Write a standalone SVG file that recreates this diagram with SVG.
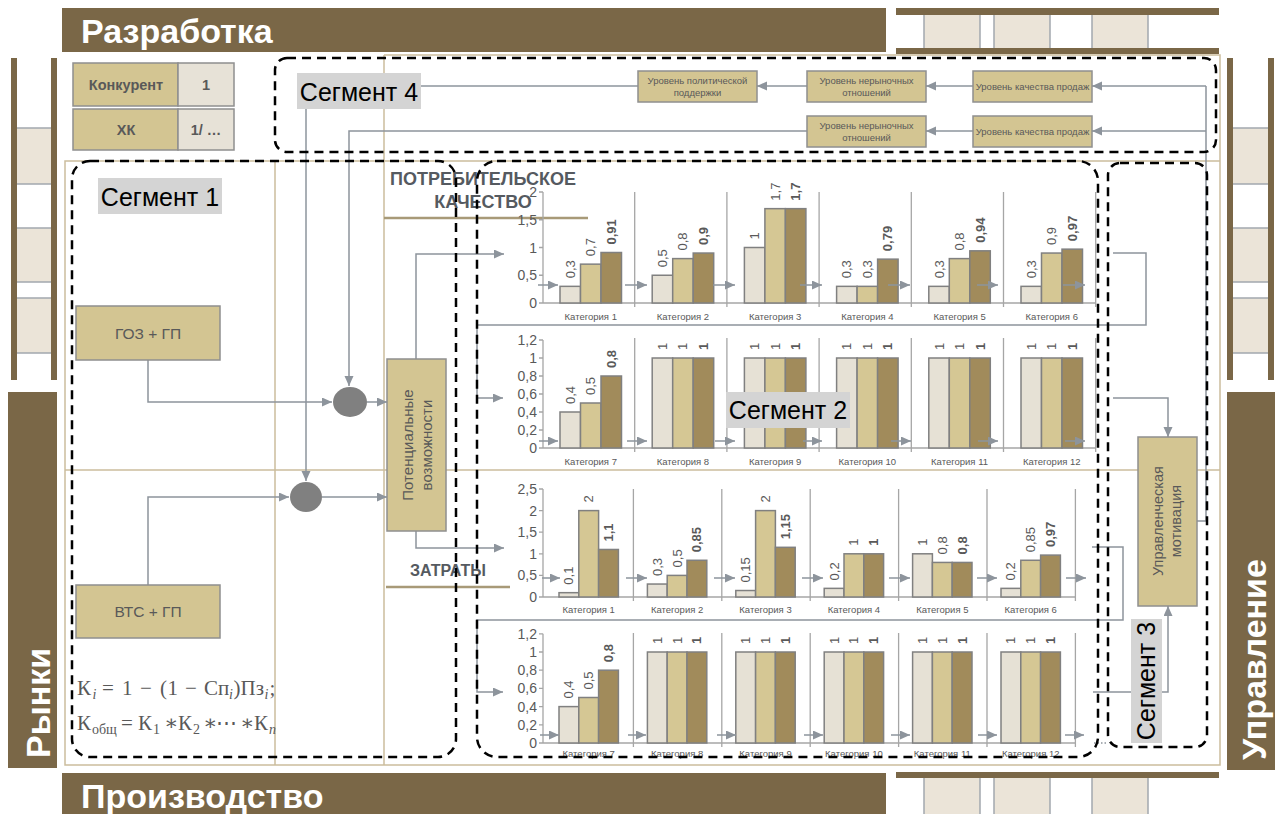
<svg xmlns="http://www.w3.org/2000/svg" width="1279" height="814" viewBox="0 0 1279 814">
<defs>
<marker id="ah" markerUnits="userSpaceOnUse" markerWidth="11" markerHeight="10" refX="10" refY="4.5" orient="auto"><path d="M0,0 L10,4.5 L0,9 z" fill="#8d949c"/></marker>
</defs>
<style>
.brown{fill:#7a6747}
.cell{fill:#ebe4d8}
.rl{stroke:#a3a8ae;stroke-width:1.5;fill:none}
.banner{font-family:"Liberation Sans",Arial,sans-serif;font-weight:bold;font-size:34px;fill:#fff}
.grid{stroke:#cbbd9d;stroke-width:1.5;fill:none}
.seg{fill:none;stroke:#000;stroke-width:2.5;stroke-dasharray:9 6}
.lbl{fill:#d4d4d4}
.lblt{font-family:"Liberation Sans",Arial,sans-serif;font-size:25px;fill:#000;text-anchor:middle}
.box{fill:#d3c592;stroke:#8f8f8f;stroke-width:1.5}
.lbox{fill:#e7e2d7;stroke:#8f8f8f;stroke-width:1.5}
.bt{font-family:"Liberation Sans",Arial,sans-serif;fill:#595959;text-anchor:middle}
.tb{font-family:"Liberation Sans",Arial,sans-serif;fill:#595959;text-anchor:middle;font-weight:bold;font-size:14.5px}
.con{stroke:#8d949c;stroke-width:1.5;fill:none}
.arr{stroke:#8d949c;stroke-width:1.5;fill:none;marker-end:url(#ah)}
.b1{fill:#e6e1d5;stroke:#808080;stroke-width:1.5}
.b2{fill:#d5c794;stroke:#808080;stroke-width:1.5}
.b3{fill:#a18b5b;stroke:#808080;stroke-width:1.5}
.ax{stroke:#a6a6a6;stroke-width:1.3;fill:none}
.yl{font-family:"Liberation Sans",Arial,sans-serif;font-size:14px;fill:#595959;text-anchor:end}
.cl{font-family:"Liberation Sans",Arial,sans-serif;font-size:9.5px;fill:#595959;text-anchor:middle}
.vl{font-family:"Liberation Sans",Arial,sans-serif;font-size:13px;fill:#595959}
.vb{font-weight:bold}
.hd{font-family:"Liberation Sans",Arial,sans-serif;font-weight:bold;fill:#555a60;text-anchor:middle}
.fm{font-family:"Liberation Serif","DejaVu Serif",serif;font-size:21px;fill:#595959}
.sb{font-size:14px}
.it{font-style:italic}
</style>

<!-- background frames / rails -->
<g id="rails">
<rect class="brown" x="62" y="8" width="824" height="44"/>
<text class="banner" x="81" y="43">Разработка</text>
<rect class="brown" x="62" y="773" width="824" height="41"/>
<text class="banner" x="81" y="808">Производство</text>
<rect class="brown" x="8" y="392" width="49" height="376"/>
<text class="banner" font-size="35" transform="translate(50,758) rotate(-90)">Рынки</text>
<rect class="brown" x="1227" y="392" width="48" height="378"/>
<text class="banner" font-size="36" transform="translate(1266,760) rotate(-90)">Управление</text>

<rect class="cell" x="924" y="15" width="56" height="33"/>
<rect class="cell" x="994" y="15" width="56" height="33"/>
<rect class="cell" x="1092" y="15" width="56" height="33"/>
<path class="rl" d="M924,15V48M980,15V48M994,15V48M1050,15V48M1092,15V48M1148,15V48"/>
<rect class="brown" x="896" y="8" width="323" height="7"/>
<rect class="brown" x="896" y="48" width="323" height="6"/>

<rect class="cell" x="924" y="778" width="56" height="36"/>
<rect class="cell" x="994" y="778" width="56" height="36"/>
<rect class="cell" x="1092" y="778" width="56" height="36"/>
<path class="rl" d="M924,778V814M980,778V814M994,778V814M1050,778V814M1092,778V814M1148,778V814"/>
<rect class="brown" x="896" y="772" width="323" height="6"/>

<rect class="cell" x="17" y="128" width="34" height="56"/>
<rect class="cell" x="17" y="228" width="34" height="54"/>
<rect class="cell" x="17" y="298" width="34" height="55"/>
<path class="rl" d="M17,128H51M17,184H51M17,228H51M17,282H51M17,298H51M17,353H51"/>
<rect class="brown" x="11" y="58" width="6" height="322"/>
<rect class="brown" x="51" y="58" width="6" height="322"/>

<rect class="cell" x="1233" y="128" width="35" height="56"/>
<rect class="cell" x="1233" y="228" width="35" height="54"/>
<rect class="cell" x="1233" y="298" width="35" height="55"/>
<path class="rl" d="M1233,128H1268M1233,184H1268M1233,228H1268M1233,282H1268M1233,298H1268M1233,353H1268"/>
<rect class="brown" x="1227" y="58" width="6" height="322"/>
<rect class="brown" x="1268" y="58" width="6" height="322"/>
</g>

<g id="grid">
<path class="grid" d="M384,55H1220V765H65V161H1220M275,161V765M384,55V765M65,470H1220"/>
</g>

<!-- headers -->
<g id="hdr-quality">
<text class="hd" font-size="18" x="483" y="185">ПОТРЕБИТЕЛЬСКОЕ</text>
<text class="hd" font-size="18" x="483" y="208">КАЧЕСТВО</text>
<path d="M384,218H588" stroke="#a89a78" stroke-width="2.5"/>
</g>
<g id="hdr-cost">
<text class="hd" font-size="16" x="448" y="576">ЗАТРАТЫ</text>
<path d="M386,587H510" stroke="#a89a78" stroke-width="2.5"/>
</g>

<!-- table -->
<g id="table">
<rect class="box" x="73" y="63" width="105" height="43"/>
<rect class="lbox" x="178" y="63" width="56" height="43"/>
<rect class="box" x="73" y="109" width="105" height="41"/>
<rect class="lbox" x="178" y="109" width="56" height="41"/>
<text class="tb" x="126" y="90">Конкурент</text>
<text class="tb" x="206" y="90">1</text>
<text class="tb" x="126" y="135">ХК</text>
<text class="tb" x="206" y="135">1/ …</text>
</g>

<!-- connectors -->
<g id="connectors">
<path class="con" d="M421,86H638"/>
<path class="arr" d="M807,86H757"/>
<path class="arr" d="M973,86H926"/>
<path class="arr" d="M1206,86H1092"/>
<path class="arr" d="M973,131H926"/>
<path class="arr" d="M1206,131H1092"/>
<path class="arr" d="M807,131H349V386"/>
<path class="arr" d="M306,109V481"/>
<path class="arr" d="M148,360V402H332"/>
<path class="arr" d="M367,402H387"/>
<path class="arr" d="M148,585V497H289"/>
<path class="arr" d="M322,497H387"/>
<path class="arr" d="M416,359V254H504"/>
<path class="arr" d="M416,531V548H504"/>
<path class="arr" d="M1113,253H1146V325H477V398H503"/>
<path class="arr" d="M1113,398H1168V437"/>
<path class="arr" d="M1092,547H1123V620H477V692H503"/>
<path class="arr" d="M1093,692H1168V606"/>
<path class="con" d="M1197,521H1206V86"/>
<path class="con" d="M1094,743H1108" stroke-dasharray="1.5 2"/>
</g>

<!-- top nodes -->
<g id="n-policy"><rect class="box" x="638" y="71" width="119" height="31"/>
<text class="bt" font-size="9.5" x="697.5" y="84">Уровень политической</text><text class="bt" font-size="9.5" x="697.5" y="96">поддержки</text></g>
<g id="n-nonmarket1"><rect class="box" x="807" y="71" width="119" height="31"/>
<text class="bt" font-size="9.5" x="866.5" y="84">Уровень нерыночных</text><text class="bt" font-size="9.5" x="866.5" y="96">отношений</text></g>
<g id="n-sales1"><rect class="box" x="973" y="71" width="119" height="31"/>
<text class="bt" font-size="9.5" x="1032.5" y="90">Уровень качества продаж</text></g>
<g id="n-nonmarket2"><rect class="box" x="807" y="116" width="119" height="31"/>
<text class="bt" font-size="9.5" x="866.5" y="129">Уровень нерыночных</text><text class="bt" font-size="9.5" x="866.5" y="141">отношений</text></g>
<g id="n-sales2"><rect class="box" x="973" y="116" width="119" height="31"/>
<text class="bt" font-size="9.5" x="1032.5" y="135">Уровень качества продаж</text></g>

<!-- left nodes -->
<g id="n-goz"><rect class="box" x="76" y="306" width="144" height="54"/><text class="bt" font-size="15.5" x="148" y="339">ГОЗ + ГП</text></g>
<g id="n-vts"><rect class="box" x="76" y="585" width="144" height="53"/><text class="bt" font-size="15.5" x="148" y="617">ВТС + ГП</text></g>
<g id="n-c1"><ellipse cx="350" cy="402" rx="17" ry="15" fill="#808080"/></g>
<g id="n-c2"><ellipse cx="306" cy="497" rx="16" ry="15" fill="#808080"/></g>
<g id="n-potential"><rect class="box" x="387" y="359" width="59" height="172"/>
<text class="bt" font-size="15" transform="translate(413,445) rotate(-90)">Потенциальные</text>
<text class="bt" font-size="15" transform="translate(432,445) rotate(-90)">возможности</text></g>
<g id="n-motiv"><rect class="box" x="1138" y="437" width="59" height="169"/>
<text class="bt" font-size="14.5" transform="translate(1163,521) rotate(-90)">Управленческая</text>
<text class="bt" font-size="14.5" transform="translate(1181,521) rotate(-90)">мотивация</text></g>

<!-- chart 1 -->
<g id="chart1">
<path class="ax" d="M543,192V303H1096M634.7,192V307M726.9,192V307M819.1,192V307M911.3,192V307M1003.5,192V307M1095.7,192V307M539,192H543M539,219.75H543M539,247.5H543M539,275.25H543M539,303H543"/>
<text class="yl" x="537" y="197">2</text><text class="yl" x="537" y="224.75">1,5</text><text class="yl" x="537" y="252.5">1</text><text class="yl" x="537" y="280.25">0,5</text><text class="yl" x="537" y="308">0</text>
<rect class="b1" x="560" y="286.35" width="20.5" height="16.65"/><rect class="b2" x="580.5" y="264.15" width="20.5" height="38.85"/><rect class="b3" x="601" y="252.5" width="20.5" height="50.5"/>
<rect class="b1" x="652.2" y="275.25" width="20.5" height="27.75"/><rect class="b2" x="672.7" y="258.6" width="20.5" height="44.4"/><rect class="b3" x="693.2" y="253.05" width="20.5" height="49.95"/>
<rect class="b1" x="744.4" y="247.5" width="20.5" height="55.5"/><rect class="b2" x="764.9" y="208.65" width="20.5" height="94.35"/><rect class="b3" x="785.4" y="208.65" width="20.5" height="94.35"/>
<rect class="b1" x="836.6" y="286.35" width="20.5" height="16.65"/><rect class="b2" x="857.1" y="286.35" width="20.5" height="16.65"/><rect class="b3" x="877.6" y="259.15" width="20.5" height="43.85"/>
<rect class="b1" x="928.8" y="286.35" width="20.5" height="16.65"/><rect class="b2" x="949.3" y="258.6" width="20.5" height="44.4"/><rect class="b3" x="969.8" y="250.83" width="20.5" height="52.17"/>
<rect class="b1" x="1021" y="286.35" width="20.5" height="16.65"/><rect class="b2" x="1041.5" y="253.05" width="20.5" height="49.95"/><rect class="b3" x="1062" y="249.16" width="20.5" height="53.84"/>
<text class="vl" transform="translate(574.75,278.35) rotate(-90)">0,3</text><text class="vl" transform="translate(595.25,256.15) rotate(-90)">0,7</text><text class="vl vb" transform="translate(615.75,244.5) rotate(-90)">0,91</text>
<text class="vl" transform="translate(666.95,267.25) rotate(-90)">0,5</text><text class="vl" transform="translate(687.45,250.6) rotate(-90)">0,8</text><text class="vl vb" transform="translate(707.95,245.05) rotate(-90)">0,9</text>
<text class="vl" transform="translate(759.15,239.5) rotate(-90)">1</text><text class="vl" transform="translate(779.65,200.65) rotate(-90)">1,7</text><text class="vl vb" transform="translate(800.15,200.65) rotate(-90)">1,7</text>
<text class="vl" transform="translate(851.35,278.35) rotate(-90)">0,3</text><text class="vl" transform="translate(871.85,278.35) rotate(-90)">0,3</text><text class="vl vb" transform="translate(892.35,251.15) rotate(-90)">0,79</text>
<text class="vl" transform="translate(943.55,278.35) rotate(-90)">0,3</text><text class="vl" transform="translate(964.05,250.6) rotate(-90)">0,8</text><text class="vl vb" transform="translate(984.55,242.83) rotate(-90)">0,94</text>
<text class="vl" transform="translate(1035.75,278.35) rotate(-90)">0,3</text><text class="vl" transform="translate(1056.25,245.05) rotate(-90)">0,9</text><text class="vl vb" transform="translate(1076.75,241.16) rotate(-90)">0,97</text>
<text class="cl" x="590.75" y="320">Категория 1</text><text class="cl" x="682.95" y="320">Категория 2</text><text class="cl" x="775.15" y="320">Категория 3</text><text class="cl" x="867.35" y="320">Категория 4</text><text class="cl" x="959.55" y="320">Категория 5</text><text class="cl" x="1051.75" y="320">Категория 6</text>
<path class="arr" d="M538,285H558"/><path class="arr" d="M625,285H647"/><path class="arr" d="M713,285H735"/><path class="arr" d="M800,285H822"/><path class="arr" d="M888,285H910"/><path class="arr" d="M977,285H998"/><path class="arr" d="M1063,285H1085"/>
</g>

<!-- chart 2 -->
<g id="chart2">
<path class="ax" d="M543,340V448H1096M634.7,338V452M726.9,338V452M819.1,338V452M911.3,338V452M1003.5,338V452M1095.7,338V452M539,340H543M539,358H543M539,376H543M539,394H543M539,412H543M539,430H543M539,448H543"/>
<text class="yl" x="537" y="345">1,2</text><text class="yl" x="537" y="363">1</text><text class="yl" x="537" y="381">0,8</text><text class="yl" x="537" y="399">0,6</text><text class="yl" x="537" y="417">0,4</text><text class="yl" x="537" y="435">0,2</text><text class="yl" x="537" y="453">0</text>
<rect class="b1" x="560" y="412" width="20.5" height="36"/><rect class="b2" x="580.5" y="403" width="20.5" height="45"/><rect class="b3" x="601" y="376" width="20.5" height="72"/>
<rect class="b1" x="652.2" y="358" width="20.5" height="90"/><rect class="b2" x="672.7" y="358" width="20.5" height="90"/><rect class="b3" x="693.2" y="358" width="20.5" height="90"/>
<rect class="b1" x="744.4" y="358" width="20.5" height="90"/><rect class="b2" x="764.9" y="358" width="20.5" height="90"/><rect class="b3" x="785.4" y="358" width="20.5" height="90"/>
<rect class="b1" x="836.6" y="358" width="20.5" height="90"/><rect class="b2" x="857.1" y="358" width="20.5" height="90"/><rect class="b3" x="877.6" y="358" width="20.5" height="90"/>
<rect class="b1" x="928.8" y="358" width="20.5" height="90"/><rect class="b2" x="949.3" y="358" width="20.5" height="90"/><rect class="b3" x="969.8" y="358" width="20.5" height="90"/>
<rect class="b1" x="1021" y="358" width="20.5" height="90"/><rect class="b2" x="1041.5" y="358" width="20.5" height="90"/><rect class="b3" x="1062" y="358" width="20.5" height="90"/>
<text class="vl" transform="translate(574.75,404) rotate(-90)">0,4</text><text class="vl" transform="translate(595.25,395) rotate(-90)">0,5</text><text class="vl vb" transform="translate(615.75,368) rotate(-90)">0,8</text>
<text class="vl" transform="translate(666.95,350) rotate(-90)">1</text><text class="vl" transform="translate(687.45,350) rotate(-90)">1</text><text class="vl vb" transform="translate(707.95,350) rotate(-90)">1</text>
<text class="vl" transform="translate(759.15,350) rotate(-90)">1</text><text class="vl" transform="translate(779.65,350) rotate(-90)">1</text><text class="vl vb" transform="translate(800.15,350) rotate(-90)">1</text>
<text class="vl" transform="translate(851.35,350) rotate(-90)">1</text><text class="vl" transform="translate(871.85,350) rotate(-90)">1</text><text class="vl vb" transform="translate(892.35,350) rotate(-90)">1</text>
<text class="vl" transform="translate(943.55,350) rotate(-90)">1</text><text class="vl" transform="translate(964.05,350) rotate(-90)">1</text><text class="vl vb" transform="translate(984.55,350) rotate(-90)">1</text>
<text class="vl" transform="translate(1035.75,350) rotate(-90)">1</text><text class="vl" transform="translate(1056.25,350) rotate(-90)">1</text><text class="vl vb" transform="translate(1076.75,350) rotate(-90)">1</text>
<text class="cl" x="590.75" y="465">Категория 7</text><text class="cl" x="682.95" y="465">Категория 8</text><text class="cl" x="775.15" y="465">Категория 9</text><text class="cl" x="867.35" y="465">Категория 10</text><text class="cl" x="959.55" y="465">Категория 11</text><text class="cl" x="1051.75" y="465">Категория 12</text>
<path class="arr" d="M539,441H558"/><path class="arr" d="M627,441H647"/><path class="arr" d="M715,441H735"/><path class="arr" d="M803,441H822"/><path class="arr" d="M891,441H911"/><path class="arr" d="M978,441H998"/><path class="arr" d="M1065,441H1085"/>
</g>

<!-- chart 3 -->
<g id="chart3">
<path class="ax" d="M543,489V597H1075.4M633.4,489V601M721.8,489V601M810.2,489V601M898.6,489V601M987,489V601M1075.4,489V601M539,489H543M539,510.6H543M539,532.2H543M539,553.8H543M539,575.4H543M539,597H543"/>
<text class="yl" x="537" y="494">2,5</text><text class="yl" x="537" y="515.6">2</text><text class="yl" x="537" y="537.2">1,5</text><text class="yl" x="537" y="558.8">1</text><text class="yl" x="537" y="580.4">0,5</text><text class="yl" x="537" y="602">0</text>
<rect class="b1" x="559" y="592.68" width="19.8" height="4.32"/><rect class="b2" x="578.8" y="510.6" width="19.8" height="86.4"/><rect class="b3" x="598.6" y="549.48" width="19.8" height="47.52"/>
<rect class="b1" x="647.4" y="584.04" width="19.8" height="12.96"/><rect class="b2" x="667.2" y="575.4" width="19.8" height="21.6"/><rect class="b3" x="687" y="560.28" width="19.8" height="36.72"/>
<rect class="b1" x="735.8" y="590.52" width="19.8" height="6.48"/><rect class="b2" x="755.6" y="510.6" width="19.8" height="86.4"/><rect class="b3" x="775.4" y="547.32" width="19.8" height="49.68"/>
<rect class="b1" x="824.2" y="588.36" width="19.8" height="8.64"/><rect class="b2" x="844" y="553.8" width="19.8" height="43.2"/><rect class="b3" x="863.8" y="553.8" width="19.8" height="43.2"/>
<rect class="b1" x="912.6" y="553.8" width="19.8" height="43.2"/><rect class="b2" x="932.4" y="562.44" width="19.8" height="34.56"/><rect class="b3" x="952.2" y="562.44" width="19.8" height="34.56"/>
<rect class="b1" x="1001" y="588.36" width="19.8" height="8.64"/><rect class="b2" x="1020.8" y="560.28" width="19.8" height="36.72"/><rect class="b3" x="1040.6" y="555.1" width="19.8" height="41.9"/>
<text class="vl" transform="translate(573.4,584.7) rotate(-90)">0,1</text><text class="vl" transform="translate(593.2,502.6) rotate(-90)">2</text><text class="vl vb" transform="translate(613,541.5) rotate(-90)">1,1</text>
<text class="vl" transform="translate(661.8,576) rotate(-90)">0,3</text><text class="vl" transform="translate(681.6,567.4) rotate(-90)">0,5</text><text class="vl vb" transform="translate(701.4,552.3) rotate(-90)">0,85</text>
<text class="vl" transform="translate(750.2,582.5) rotate(-90)">0,15</text><text class="vl" transform="translate(770,502.6) rotate(-90)">2</text><text class="vl vb" transform="translate(789.8,539.3) rotate(-90)">1,15</text>
<text class="vl" transform="translate(838.6,580.4) rotate(-90)">0,2</text><text class="vl" transform="translate(858.4,545.8) rotate(-90)">1</text><text class="vl vb" transform="translate(878.2,545.8) rotate(-90)">1</text>
<text class="vl" transform="translate(927,545.8) rotate(-90)">1</text><text class="vl" transform="translate(946.8,554.4) rotate(-90)">0,8</text><text class="vl vb" transform="translate(966.6,554.4) rotate(-90)">0,8</text>
<text class="vl" transform="translate(1015.4,580.4) rotate(-90)">0,2</text><text class="vl" transform="translate(1035.2,552.3) rotate(-90)">0,85</text><text class="vl vb" transform="translate(1055,547.1) rotate(-90)">0,97</text>
<text class="cl" x="588.7" y="613">Категория 1</text><text class="cl" x="677.1" y="613">Категория 2</text><text class="cl" x="765.5" y="613">Категория 3</text><text class="cl" x="853.9" y="613">Категория 4</text><text class="cl" x="942.3" y="613">Категория 5</text><text class="cl" x="1030.7" y="613">Категория 6</text>
<path class="arr" d="M542,578H560"/><path class="arr" d="M626,578H647"/><path class="arr" d="M714,578H735"/><path class="arr" d="M802,578H823"/><path class="arr" d="M889,578H910"/><path class="arr" d="M977,578H997"/><path class="arr" d="M1066,578H1086"/>
</g>

<!-- chart 4 -->
<g id="chart4">
<path class="ax" d="M543,633.8V743H1075.4M633.4,633V747M721.8,633V747M810.2,633V747M898.6,633V747M987,633V747M1075.4,633V747M539,633.8H543M539,652H543M539,670.2H543M539,688.4H543M539,706.6H543M539,724.8H543M539,743H543"/>
<text class="yl" x="537" y="638.8">1,2</text><text class="yl" x="537" y="657">1</text><text class="yl" x="537" y="675.2">0,8</text><text class="yl" x="537" y="693.4">0,6</text><text class="yl" x="537" y="711.6">0,4</text><text class="yl" x="537" y="729.8">0,2</text><text class="yl" x="537" y="748">0</text>
<rect class="b1" x="559" y="706.6" width="19.8" height="36.4"/><rect class="b2" x="578.8" y="697.5" width="19.8" height="45.5"/><rect class="b3" x="598.6" y="670.2" width="19.8" height="72.8"/>
<rect class="b1" x="647.4" y="652" width="19.8" height="91"/><rect class="b2" x="667.2" y="652" width="19.8" height="91"/><rect class="b3" x="687" y="652" width="19.8" height="91"/>
<rect class="b1" x="735.8" y="652" width="19.8" height="91"/><rect class="b2" x="755.6" y="652" width="19.8" height="91"/><rect class="b3" x="775.4" y="652" width="19.8" height="91"/>
<rect class="b1" x="824.2" y="652" width="19.8" height="91"/><rect class="b2" x="844" y="652" width="19.8" height="91"/><rect class="b3" x="863.8" y="652" width="19.8" height="91"/>
<rect class="b1" x="912.6" y="652" width="19.8" height="91"/><rect class="b2" x="932.4" y="652" width="19.8" height="91"/><rect class="b3" x="952.2" y="652" width="19.8" height="91"/>
<rect class="b1" x="1001" y="652" width="19.8" height="91"/><rect class="b2" x="1020.8" y="652" width="19.8" height="91"/><rect class="b3" x="1040.6" y="652" width="19.8" height="91"/>
<text class="vl" transform="translate(573.4,698.6) rotate(-90)">0,4</text><text class="vl" transform="translate(593.2,689.5) rotate(-90)">0,5</text><text class="vl vb" transform="translate(613,662.2) rotate(-90)">0,8</text>
<text class="vl" transform="translate(661.8,644) rotate(-90)">1</text><text class="vl" transform="translate(681.6,644) rotate(-90)">1</text><text class="vl vb" transform="translate(701.4,644) rotate(-90)">1</text>
<text class="vl" transform="translate(750.2,644) rotate(-90)">1</text><text class="vl" transform="translate(770,644) rotate(-90)">1</text><text class="vl vb" transform="translate(789.8,644) rotate(-90)">1</text>
<text class="vl" transform="translate(838.6,644) rotate(-90)">1</text><text class="vl" transform="translate(858.4,644) rotate(-90)">1</text><text class="vl vb" transform="translate(878.2,644) rotate(-90)">1</text>
<text class="vl" transform="translate(927,644) rotate(-90)">1</text><text class="vl" transform="translate(946.8,644) rotate(-90)">1</text><text class="vl vb" transform="translate(966.6,644) rotate(-90)">1</text>
<text class="vl" transform="translate(1015.4,644) rotate(-90)">1</text><text class="vl" transform="translate(1035.2,644) rotate(-90)">1</text><text class="vl vb" transform="translate(1055,644) rotate(-90)">1</text>
<text class="cl" font-size="8.5" x="588.7" y="757">Категория 7</text><text class="cl" font-size="8.5" x="677.1" y="757">Категория 8</text><text class="cl" font-size="8.5" x="765.5" y="757">Категория 9</text><text class="cl" font-size="8.5" x="853.9" y="757">Категория 10</text><text class="cl" font-size="8.5" x="942.3" y="757">Категория 11</text><text class="cl" font-size="8.5" x="1030.7" y="757">Категория 12</text>
<path class="arr" d="M540,735H559"/><path class="arr" d="M628,735H646"/><path class="arr" d="M717,735H736"/><path class="arr" d="M804,735H823"/><path class="arr" d="M891,735H910"/><path class="arr" d="M978,735H997"/><path class="arr" d="M1065,735H1084"/>
</g>

<!-- formula -->
<g id="formula">
<text class="fm" y="695"><tspan x="77">К</tspan><tspan class="sb it" x="92.5" dy="4">i</tspan><tspan x="102" dy="-4">=</tspan><tspan x="122">1</tspan><tspan x="140">−</tspan><tspan x="160">(</tspan><tspan x="167.5">1</tspan><tspan x="185">−</tspan><tspan x="204">Сп</tspan><tspan class="sb it" x="229" dy="4">i</tspan><tspan x="233.5" dy="-4">)Пз</tspan><tspan class="sb it" x="264.5" dy="4">i</tspan><tspan x="269.5" dy="-4">;</tspan></text>
<text class="fm" y="730"><tspan x="77">К</tspan><tspan class="sb" x="92" dy="4">общ</tspan><tspan x="121" dy="-4">=</tspan><tspan x="138">К</tspan><tspan class="sb" x="153" dy="4">1</tspan><tspan x="164" dy="-4">∗</tspan><tspan x="178">К</tspan><tspan class="sb" x="193" dy="4">2</tspan><tspan x="203" dy="-4">∗</tspan><tspan x="216">⋯</tspan><tspan x="240">∗</tspan><tspan x="254">К</tspan><tspan class="sb it" x="269" dy="4">n</tspan></text>
</g>

<!-- segments -->
<g id="segments">
<rect class="seg" x="275" y="58" width="941" height="94" rx="12"/>
<rect class="seg" x="72" y="161" width="384" height="596" rx="18"/>
<rect class="seg" x="477" y="161" width="621" height="596" rx="20"/>
<rect class="seg" x="1108" y="163" width="99" height="584" rx="12"/>
</g>
<g id="seg-labels">
<rect class="lbl" x="297" y="73" width="124" height="36"/><text class="lblt" x="359" y="101">Сегмент 4</text>
<rect class="lbl" x="98" y="178" width="124" height="36"/><text class="lblt" x="160" y="206">Сегмент 1</text>
<rect class="lbl" x="726" y="392" width="124" height="36"/><text class="lblt" x="788" y="419">Сегмент 2</text>
<rect class="lbl" x="1131" y="619" width="31" height="124"/><text class="lblt" transform="translate(1155,681) rotate(-90)">Сегмент 3</text>
</g>
</svg>
